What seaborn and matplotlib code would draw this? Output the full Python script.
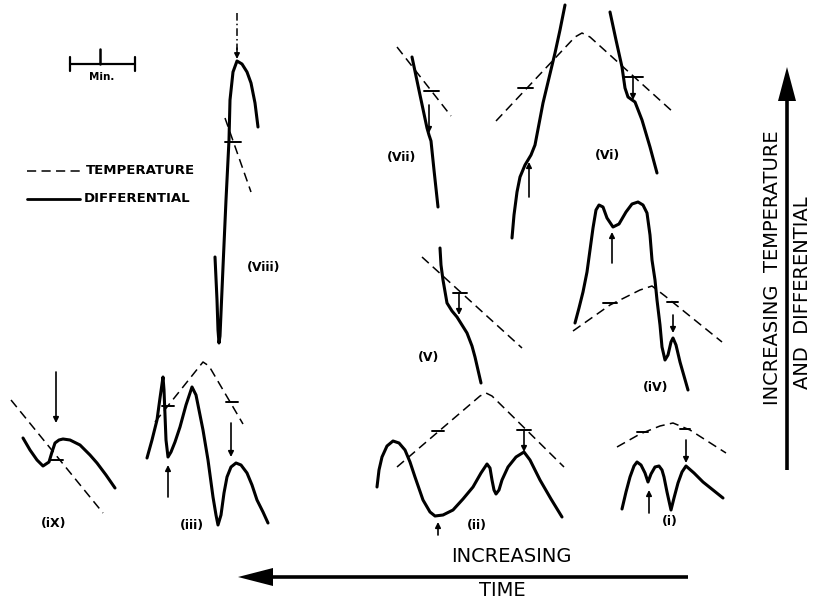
import matplotlib
matplotlib.use("Agg")
import matplotlib.pyplot as plt
import seaborn as sns

# all values are in picture units (x to the right, y downward)

# (viii)
viii_x = [215, 217, 218, 219, 220, 223, 226, 229, 230, 233, 237, 242, 247, 251, 255, 258]
viii_y = [257, 300, 330, 343, 336, 267, 200, 140, 100, 72, 61, 64, 72, 83, 103, 127]
viii_tx = [225, 251]
viii_ty = [118, 192]

# (vii)
vii_x = [412, 420, 427, 429, 431, 434, 438]
vii_y = [57, 95, 128, 135, 141, 170, 207]
vii_tx = [397, 451]
vii_ty = [47, 116]

# (vi)
vi_left_x = [512, 514, 517, 520, 525, 531, 535, 543, 549, 555, 560, 565]
vi_left_y = [238, 215, 192, 177, 165, 155, 145, 103, 78, 53, 30, 5]
vi_right_x = [610, 616, 622, 625, 628, 635, 642, 650, 657]
vi_right_y = [12, 40, 67, 88, 97, 102, 120, 147, 173]
vi_tx = [496, 575, 582, 590, 673]
vi_ty = [121, 37, 33, 37, 112]

# (v)
v_x = [440, 441, 443, 447, 452, 457, 462, 467, 472, 475, 478, 481]
v_y = [248, 265, 280, 303, 311, 317, 325, 333, 346, 357, 370, 383]
v_tx = [422, 522]
v_ty = [257, 348]

# (iv)
iv_x = [575, 579, 583, 587, 590, 593, 596, 599, 603, 607, 613, 619, 626, 632, 638, 643, 647,
        650, 652, 655, 657, 660, 662, 665, 668, 671, 673, 676, 680, 684, 688]
iv_y = [323, 308, 292, 272, 250, 228, 210, 205, 207, 218, 227, 224, 212, 204, 202, 205, 213,
        235, 260, 280, 300, 325, 347, 360, 355, 342, 338, 345, 362, 376, 390]
iv_tx = [573, 610, 640, 652, 665, 722]
iv_ty = [331, 305, 290, 286, 296, 342]

# (ix)
ix_x = [23, 30, 37, 43, 49, 52, 55, 59, 63, 70, 80, 90, 97, 106, 115]
ix_y = [438, 450, 460, 466, 462, 452, 443, 440, 439, 440, 445, 455, 463, 475, 488]
ix_tx = [11, 103]
ix_ty = [400, 513]

# (iii)
iii_x = [147, 152, 157, 160, 163, 164, 166, 168, 171, 175, 180, 186, 192, 196, 203,
         208, 213, 216, 218, 221, 224, 227, 231, 236, 241, 247, 252, 257, 263, 268]
iii_y = [458, 440, 420, 398, 377, 390, 440, 457, 452, 442, 427, 405, 387, 395, 430,
         460, 497, 515, 525, 515, 493, 477, 467, 463, 465, 473, 485, 500, 512, 523]
iii_tx = [155, 167, 203, 209, 243]
iii_ty = [422, 407, 362, 366, 424]

# (ii)
ii_x = [377, 379, 382, 387, 393, 399, 405, 410, 415, 423, 430, 435, 443, 453, 463, 473,
        481, 487, 490, 492, 494, 496, 499, 502, 508, 516, 524, 530, 540, 551, 562]
ii_y = [487, 470, 457, 446, 441, 443, 450, 462, 477, 500, 512, 516, 515, 510, 499, 487,
        473, 464, 468, 480, 490, 494, 490, 480, 467, 457, 452, 460, 480, 499, 517]
ii_tx = [397, 480, 486, 492, 564]
ii_ty = [467, 396, 393, 396, 467]

# (i)
i_x = [622, 626, 630, 634, 637, 641, 645, 648, 651, 655, 659, 662, 664, 667, 671,
       674, 678, 682, 686, 694, 703, 713, 723]
i_y = [509, 492, 477, 466, 462, 465, 473, 482, 474, 467, 466, 470, 477, 492, 510,
       498, 483, 472, 466, 473, 482, 490, 498]
i_tx = [617, 640, 660, 673, 690, 726]
i_ty = [447, 434, 426, 423, 430, 453]

# small cross-marks on the temperature lines: (y, x_left, x_right)
tick_y = [142, 91, 88, 77, 293, 303, 302, 460, 406, 402, 431, 430, 432, 429]
tick_x0 = [225, 424, 518, 623, 453, 603, 667, 50, 162, 226, 432, 517, 637, 680]
tick_x1 = [241, 439, 533, 643, 467, 617, 678, 63, 174, 238, 444, 531, 648, 690]

# small arrows: (x, y_from, y_to)
arrow_x = [429, 529, 633, 459, 612, 673, 56, 168, 231, 524, 438, 686, 649]
arrow_y0 = [105, 197, 77, 293, 263, 315, 372, 497, 423, 430, 535, 440, 513]
arrow_y1 = [133, 162, 100, 315, 232, 333, 423, 465, 457, 452, 522, 463, 490]

labels = ["(Viii)", "(Vii)", "(Vi)", "(V)", "(iV)", "(iX)", "(iii)", "(ii)", "(i)"]
label_x = [264, 402, 607, 429, 656, 54, 192, 477, 670]
label_y = [268, 157, 155, 357, 388, 524, 525, 525, 522]

solid_curves = [(viii_x, viii_y), (vii_x, vii_y), (vi_left_x, vi_left_y),
                (vi_right_x, vi_right_y), (v_x, v_y), (iv_x, iv_y), (ix_x, ix_y),
                (iii_x, iii_y), (ii_x, ii_y), (i_x, i_y)]
temp_curves = [(viii_tx, viii_ty), (vii_tx, vii_ty), (vi_tx, vi_ty), (v_tx, v_ty),
               (iv_tx, iv_ty), (ix_tx, ix_ty), (iii_tx, iii_ty), (ii_tx, ii_ty),
               (i_tx, i_ty)]

sns.set_theme(style="white")
plt.rcParams['font.family'] = ['DejaVu Sans']
plt.rcParams['text.color'] = 'black'

fig = plt.figure(figsize=(8.15, 5.99), dpi=100)
ax = fig.add_axes([0, 0, 1, 1])

DASH = (0, (6, 3.5))

for xs, ys in solid_curves:
    sns.lineplot(x=xs, y=ys, sort=False, estimator=None, ax=ax, color='black',
                 lw=2.2, solid_joinstyle='round', solid_capstyle='round')

for xs, ys in temp_curves:
    sns.lineplot(x=xs, y=ys, sort=False, estimator=None, ax=ax, color='black',
                 lw=1.1, linestyle=DASH)

for y, x0, x1 in zip(tick_y, tick_x0, tick_x1):
    ax.plot([x0, x1], [y, y], color='black', lw=1.4)

for x, y0, y1 in zip(arrow_x, arrow_y0, arrow_y1):
    ax.annotate('', xy=(x, y1), xytext=(x, y0),
                arrowprops=dict(arrowstyle='-|>', color='black', lw=1.2,
                                mutation_scale=8, shrinkA=0, shrinkB=0))

# dash-dot arrow above (viii)
ax.plot([237, 237], [13, 50], color='black', lw=1.1, linestyle=(0, (5, 2, 1, 2)))
ax.annotate('', xy=(237, 59), xytext=(237, 48),
            arrowprops=dict(arrowstyle='-|>', color='black', lw=1.1,
                            mutation_scale=8, shrinkA=0, shrinkB=0))

for txt, x, y in zip(labels, label_x, label_y):
    ax.text(x, y, txt, ha='center', va='center', fontsize=9, fontweight='bold')

# scale bar
ax.plot([70, 135], [64, 64], color='black', lw=1.6)
ax.plot([70, 70], [57, 71], color='black', lw=1.6)
ax.plot([135, 135], [57, 71], color='black', lw=1.6)
ax.plot([100, 100], [49, 64], color='black', lw=1.8)
ax.text(102, 77, "Min.", ha='center', va='center', fontsize=7.5, fontweight='bold')

# legend
ax.plot([27, 80], [171, 171], color='black', lw=1.1, linestyle=DASH)
ax.text(86, 171, "TEMPERATURE", ha='left', va='center', fontsize=9.5, fontweight='bold')
ax.plot([27, 80], [199, 199], color='black', lw=2.0)
ax.text(84, 198, "DIFFERENTIAL", ha='left', va='center', fontsize=9.5, fontweight='bold')

# time arrow
ax.plot([272, 688], [577, 577], color='black', lw=2.6, solid_capstyle='butt')
ax.fill([238, 273, 273], [577, 568, 586], color='black', lw=0)
ax.text(511, 557, "INCREASING", ha='center', va='center', fontsize=14)
ax.text(502, 591, "TIME", ha='center', va='center', fontsize=14)

# temperature arrow
ax.plot([787, 787], [470, 99], color='black', lw=2.6, solid_capstyle='butt')
ax.fill([787, 778, 796], [67, 101, 101], color='black', lw=0)
ax.text(772, 268, "INCREASING  TEMPERATURE", ha='center', va='center',
        fontsize=14, rotation=90)
ax.text(803, 293, "AND  DIFFERENTIAL", ha='center', va='center',
        fontsize=14, rotation=90)

ax.set_xlim(0, 815)
ax.set_ylim(599, 0)
ax.axis('off')

fig.savefig("out.png", dpi=100)
